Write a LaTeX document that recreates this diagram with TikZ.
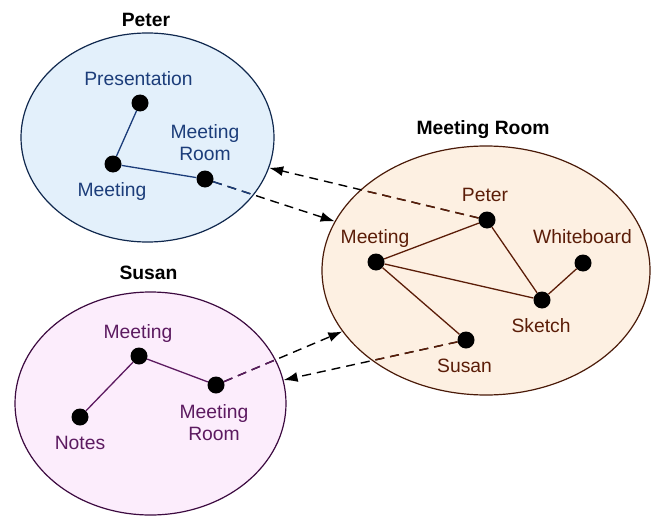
\documentclass[tikz,border=0pt]{standalone}
\usepackage{fontspec}
\setmainfont{Liberation Sans}
\usepackage{tikz}
\usetikzlibrary{shapes.geometric}
\usetikzlibrary{arrows.meta}
\definecolor{peterfill}{HTML}{E3F0FB}
\definecolor{peterline}{HTML}{10284E}
\definecolor{petertext}{HTML}{1C3D7A}
\definecolor{roomfill}{HTML}{FDF0E2}
\definecolor{roomline}{HTML}{4A1A08}
\definecolor{roomtext}{HTML}{5B1D08}
\definecolor{susanfill}{HTML}{FCEDFC}
\definecolor{susanline}{HTML}{3C0A40}
\definecolor{susantext}{HTML}{5C1A60}
\tikzstyle{dot}=[circle,fill=black,minimum size=17pt,inner sep=0pt]
\tikzstyle{edge} = [draw,line width=1.3pt,-]
\tikzstyle{link} = [draw,line width=1.4pt,dash pattern=on 9pt off 6pt,-{Latex[length=14pt,width=10pt]}]
\tikzset{
  lbl/.style = {anchor=base, align=center, inner sep=0pt,
    font=\fontsize{19.3}{22}\selectfont},
  heading/.style = {lbl, text=black, font=\fontsize{19.3}{22}\selectfont\bfseries},
  space/.style = {ellipse, draw, line width=1.2pt, inner sep=0pt},% one person or room
}

\begin{document}
\begin{tikzpicture}[x=1pt,y=-1pt]
                    \useasboundingbox (0,0) rectangle (652,516);

                    \node[space, draw=peterline, fill=peterfill, minimum width=253pt, minimum height=209pt] (peter) at (147.5,137.5) {};
                    \node[space, draw=roomline, fill=roomfill, minimum width=328pt, minimum height=249pt] (room) at (486,270.5) {};
                    \node[space, draw=susanline, fill=susanfill, minimum width=271pt, minimum height=223pt] (susan) at (150.5,403.5) {};

                    \node[heading] (peterl) at (146,27) {Peter};
                    \node[heading] (rooml) at (483,134) {Meeting Room};
                    \node[heading] (susanl) at (148.5,279) {Susan};

                    \node[dot] (ppres) at (140,103) {};
                    \node[dot] (pmeet) at (113,164) {};
                    \node[dot] (pmr) at (205,179) {};
                    \node[dot] (rpeter) at (487,220) {};
                    \node[dot] (rmeet) at (376,262) {};
                    \node[dot] (rwhite) at (583,263) {};
                    \node[dot] (rsketch) at (542,300) {};
                    \node[dot] (rsusan) at (466,340) {};
                    \node[dot] (smeet) at (139,356) {};
                    \node[dot] (snotes) at (80,417) {};
                    \node[dot] (smr) at (216,385) {};

                    \node[lbl, text=petertext] (ppresl) at (138.5,85) {Presentation};
                    \node[lbl, text=petertext] (pmeetl) at (112,196) {Meeting};
                    \node[lbl, text=petertext] (pmrl) at (205,160) {Meeting\\Room};
                    \node[lbl, text=roomtext] (rpeterl) at (485,201) {Peter};
                    \node[lbl, text=roomtext] (rmeetl) at (375,243) {Meeting};
                    \node[lbl, text=roomtext] (rwhitel) at (582.5,243) {Whiteboard};
                    \node[lbl, text=roomtext] (rsketchl) at (541,332) {Sketch};
                    \node[lbl, text=roomtext] (rsusanl) at (464.5,372) {Susan};
                    \node[lbl, text=susantext] (smeetl) at (138,338) {Meeting};
                    \node[lbl, text=susantext] (snotesl) at (80,449) {Notes};
                    \node[lbl, text=susantext] (smrl) at (214,440) {Meeting\\Room};

                    \path[edge, draw=petertext] (ppres) -- (pmeet);
                    \path[edge, draw=petertext] (pmeet) -- (pmr);
                    \path[edge, draw=roomtext] (rmeet) -- (rpeter);
                    \path[edge, draw=roomtext] (rmeet) -- (rsketch);
                    \path[edge, draw=roomtext] (rmeet) -- (rsusan);
                    \path[edge, draw=roomtext] (rpeter) -- (rsketch);
                    \path[edge, draw=roomtext] (rsketch) -- (rwhite);
                    \path[edge, draw=susantext] (snotes) -- (smeet);
                    \path[edge, draw=susantext] (smeet) -- (smr);

                    \path[link] (pmr) -- (room.162);
                    \path[link] (rpeter) -- (peter.-14);
                    \path[link] (smr) -- (room.203);
                    \path[link] (rsusan) -- (susan.10);

                    % inside its own space the link takes the space colour
                    \begin{scope}
                      \clip (peter.center) ellipse [x radius=126.5, y radius=104.5];
                      \path[link, -, draw=petertext] (pmr) -- (room.162);
                    \end{scope}
                    \begin{scope}
                      \clip (room.center) ellipse [x radius=164, y radius=124.5];
                      \path[link, -, draw=roomtext] (rpeter) -- (peter.-14);
                      \path[link, -, draw=roomtext] (rsusan) -- (susan.10);
                    \end{scope}
                    \begin{scope}
                      \clip (susan.center) ellipse [x radius=135.5, y radius=111.5];
                      \path[link, -, draw=susantext] (smr) -- (room.203);
                    \end{scope}
                \end{tikzpicture}
\end{document}
